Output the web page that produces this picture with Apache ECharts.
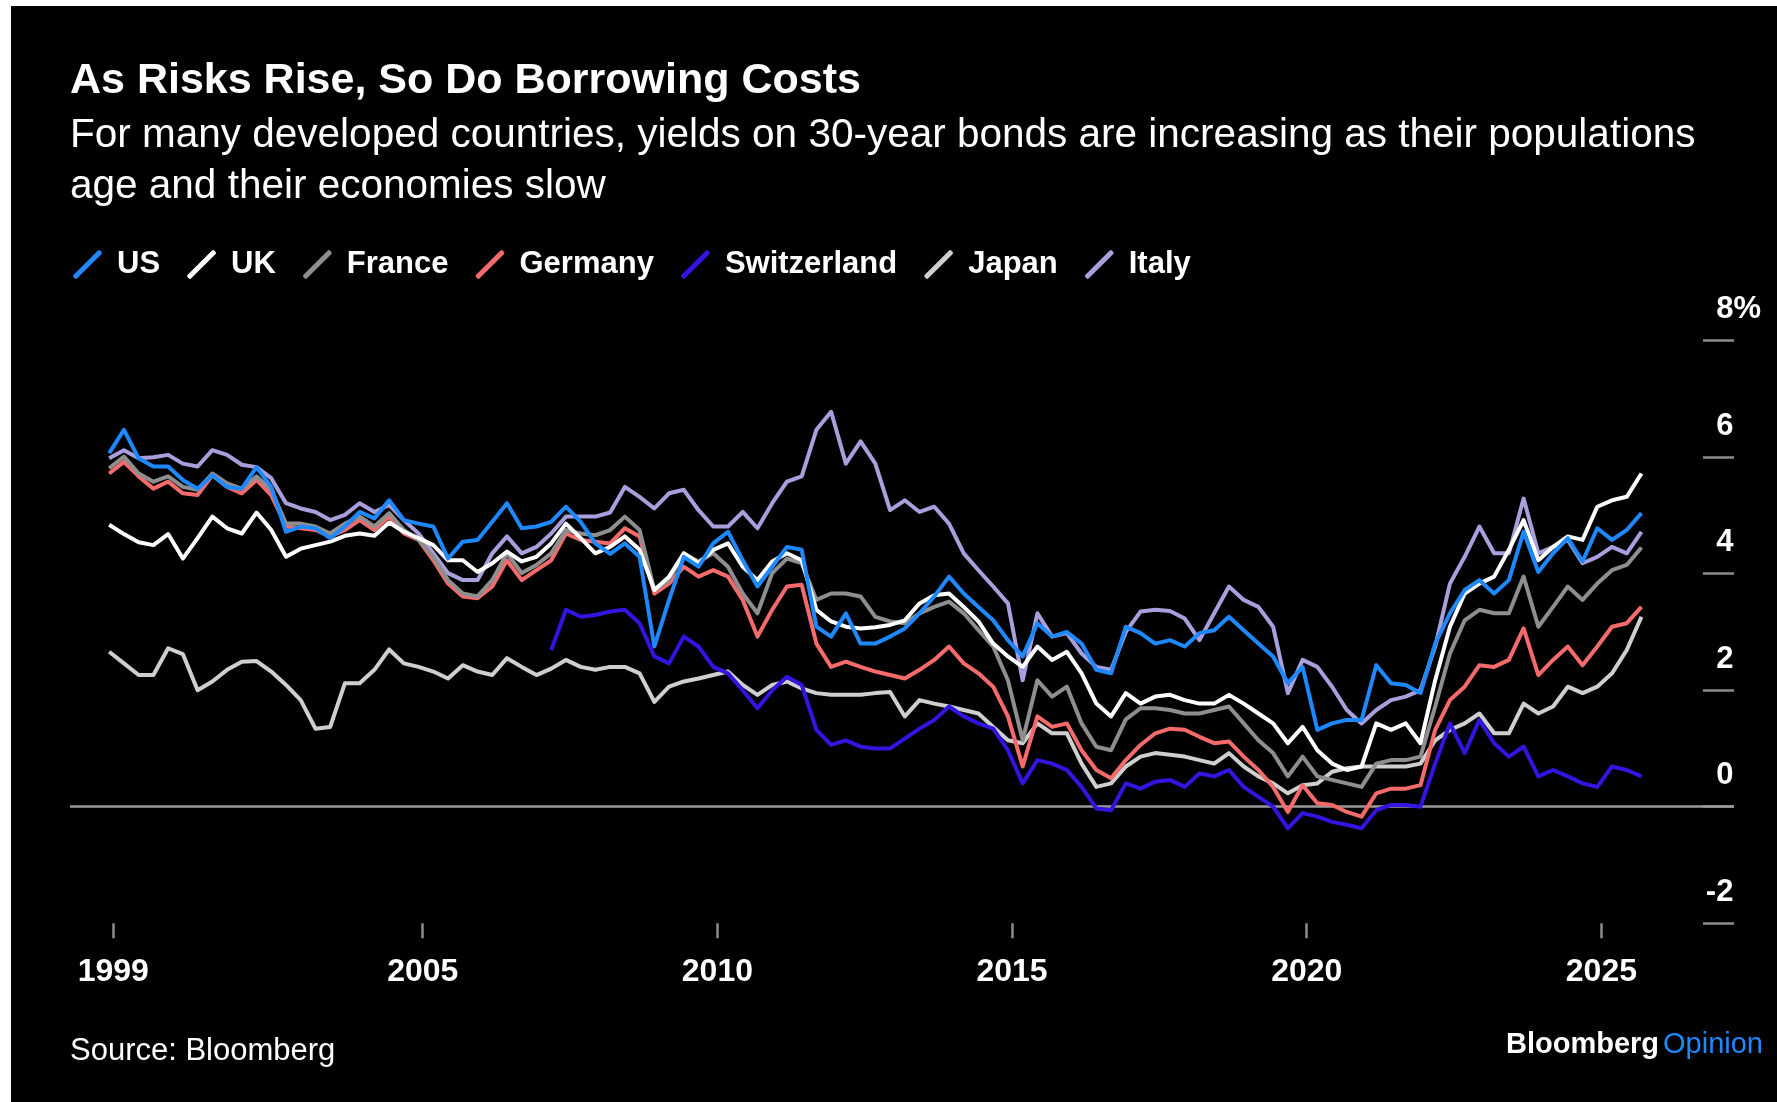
<!DOCTYPE html>
<html>
<head>
<meta charset="utf-8">
<title>As Risks Rise, So Do Borrowing Costs</title>
<script src="https://cdn.jsdelivr.net/npm/echarts@6/dist/echarts.min.js"></script>
<style>
  html, body { margin: 0; padding: 0; background: #000; }
  #chart { width: 1777px; height: 1102px; }
</style>
</head>
<body>
<div id="chart"></div>
<script>
// 30-year government bond yields (%), quarterly observations from late 1999
const startYear = 1999.68;
const stepYears = 0.25;

const usYields = [6.07, 6.47, 5.98, 5.84, 5.84, 5.61, 5.46, 5.69, 5.49, 5.46,
  5.83, 5.49, 4.72, 4.81, 4.78, 4.61, 4.81, 5.06, 4.95, 5.26,
  4.92, 4.86, 4.81, 4.26, 4.55, 4.58, 4.89, 5.21, 4.78, 4.81,
  4.89, 5.15, 4.89, 4.52, 4.34, 4.52, 4.29, 2.75, 3.55, 4.29,
  4.12, 4.52, 4.72, 4.23, 3.78, 4.12, 4.46, 4.41, 3.09, 2.92,
  3.32, 2.80, 2.80, 2.92, 3.06, 3.32, 3.61, 3.95, 3.66, 3.43,
  3.20, 2.86, 2.58, 3.15, 2.92, 3.00, 2.80, 2.35, 2.29, 3.09,
  2.98, 2.80, 2.86, 2.75, 2.98, 3.03, 3.26, 3.03, 2.80, 2.58,
  2.12, 2.40, 1.32, 1.43, 1.49, 1.49, 2.43, 2.12, 2.09, 1.95,
  2.80, 3.32, 3.72, 3.89, 3.66, 3.89, 4.72, 4.03, 4.35, 4.61,
  4.21, 4.78, 4.58, 4.75, 5.04];

const ukYields = [4.84, 4.68, 4.54, 4.49, 4.68, 4.26, 4.61, 4.98, 4.78, 4.69,
  5.05, 4.75, 4.29, 4.43, 4.49, 4.55, 4.65, 4.69, 4.65, 4.88,
  4.72, 4.61, 4.49, 4.23, 4.23, 4.03, 4.18, 4.38, 4.21, 4.29,
  4.52, 4.86, 4.61, 4.35, 4.46, 4.64, 4.41, 3.72, 3.95, 4.35,
  4.18, 4.41, 4.52, 4.12, 3.89, 4.21, 4.35, 4.23, 3.38, 3.18,
  3.09, 3.06, 3.08, 3.12, 3.20, 3.49, 3.63, 3.66, 3.43, 3.18,
  2.80, 2.58, 2.40, 2.75, 2.52, 2.66, 2.29, 1.77, 1.55, 1.95,
  1.77, 1.89, 1.92, 1.83, 1.77, 1.77, 1.92, 1.77, 1.60, 1.43,
  1.09, 1.37, 0.97, 0.74, 0.63, 0.69, 1.43, 1.32, 1.43, 1.09,
  2.17, 3.09, 3.66, 3.83, 3.95, 4.41, 4.92, 4.23, 4.46, 4.64,
  4.58, 5.15, 5.26, 5.32, 5.72];

const franceYields = [5.81, 6.01, 5.72, 5.58, 5.67, 5.49, 5.44, 5.72, 5.55, 5.46,
  5.67, 5.44, 4.86, 4.86, 4.81, 4.69, 4.86, 4.98, 4.81, 5.04,
  4.75, 4.58, 4.29, 3.89, 3.66, 3.61, 3.89, 4.35, 4.01, 4.15,
  4.35, 4.75, 4.69, 4.66, 4.75, 4.98, 4.75, 3.72, 3.89, 4.35,
  4.21, 4.35, 4.12, 3.66, 3.32, 4.01, 4.26, 4.18, 3.55, 3.66,
  3.66, 3.61, 3.26, 3.18, 3.15, 3.32, 3.43, 3.52, 3.32, 3.03,
  2.75, 2.17, 1.14, 2.17, 1.89, 2.06, 1.43, 1.03, 0.97, 1.50,
  1.69, 1.69, 1.66, 1.60, 1.60, 1.66, 1.72, 1.43, 1.14, 0.92,
  0.52, 0.86, 0.52, 0.46, 0.40, 0.34, 0.74, 0.80, 0.80, 0.86,
  1.72, 2.63, 3.20, 3.38, 3.32, 3.32, 3.95, 3.09, 3.43, 3.78,
  3.55, 3.83, 4.06, 4.15, 4.45];

const germanyYields = [5.72, 5.92, 5.67, 5.46, 5.58, 5.38, 5.35, 5.69, 5.49, 5.38,
  5.61, 5.35, 4.81, 4.78, 4.75, 4.64, 4.75, 4.92, 4.75, 4.98,
  4.69, 4.58, 4.23, 3.83, 3.61, 3.58, 3.78, 4.23, 3.89, 4.06,
  4.23, 4.69, 4.58, 4.55, 4.52, 4.78, 4.64, 3.66, 3.83, 4.12,
  3.95, 4.06, 3.95, 3.55, 2.92, 3.38, 3.78, 3.81, 2.80, 2.40,
  2.49, 2.40, 2.32, 2.26, 2.20, 2.35, 2.52, 2.75, 2.46, 2.29,
  2.06, 1.55, 0.69, 1.55, 1.37, 1.43, 0.97, 0.63, 0.49, 0.80,
  1.06, 1.26, 1.34, 1.32, 1.20, 1.09, 1.12, 0.86, 0.63, 0.34,
  -0.09, 0.37, 0.06, 0.03, -0.09, -0.17, 0.23, 0.31, 0.31, 0.37,
  1.32, 1.83, 2.06, 2.43, 2.40, 2.52, 3.06, 2.26, 2.52, 2.75,
  2.43, 2.75, 3.09, 3.15, 3.43];

// Swiss series begins 30 quarters after the others
const swissStartIndex = 30;
const switzerlandYields = [2.69, 3.38, 3.26, 3.29, 3.35, 3.38, 3.15, 2.58, 2.46, 2.92,
  2.75, 2.40, 2.29, 2.00, 1.69, 2.00, 2.23, 2.09, 1.32, 1.06,
  1.14, 1.03, 1.00, 1.00, 1.17, 1.34, 1.49, 1.72, 1.55, 1.43,
  1.34, 0.97, 0.40, 0.80, 0.74, 0.63, 0.34, -0.03, -0.06, 0.40,
  0.31, 0.43, 0.46, 0.34, 0.57, 0.52, 0.63, 0.34, 0.17, 0.00,
  -0.37, -0.11, -0.17, -0.26, -0.31, -0.37, -0.06, 0.03, 0.03, 0.00,
  0.74, 1.43, 0.92, 1.49, 1.09, 0.86, 1.03, 0.52, 0.63, 0.52,
  0.40, 0.34, 0.69, 0.63, 0.52];

const japanYields = [2.66, 2.46, 2.26, 2.26, 2.72, 2.62, 2.00, 2.15, 2.35, 2.49,
  2.50, 2.32, 2.09, 1.83, 1.34, 1.37, 2.12, 2.12, 2.35, 2.70,
  2.46, 2.40, 2.32, 2.20, 2.43, 2.32, 2.26, 2.55, 2.40, 2.26,
  2.37, 2.52, 2.40, 2.35, 2.40, 2.40, 2.29, 1.80, 2.06, 2.15,
  2.20, 2.26, 2.32, 2.09, 1.92, 2.09, 2.15, 2.03, 1.95, 1.92,
  1.92, 1.92, 1.95, 1.97, 1.55, 1.83, 1.77, 1.72, 1.66, 1.60,
  1.37, 1.14, 1.09, 1.43, 1.26, 1.26, 0.74, 0.34, 0.40, 0.69,
  0.86, 0.92, 0.89, 0.86, 0.80, 0.74, 0.92, 0.69, 0.52, 0.40,
  0.23, 0.37, 0.40, 0.60, 0.66, 0.69, 0.69, 0.69, 0.69, 0.74,
  1.14, 1.32, 1.43, 1.60, 1.26, 1.26, 1.77, 1.60, 1.72, 2.06,
  1.95, 2.06, 2.29, 2.69, 3.26];

const italyYields = [5.98, 6.12, 5.98, 6.00, 6.04, 5.89, 5.84, 6.12, 6.04, 5.87,
  5.83, 5.64, 5.21, 5.12, 5.06, 4.92, 5.01, 5.21, 5.06, 5.18,
  4.92, 4.69, 4.35, 4.01, 3.89, 3.89, 4.35, 4.64, 4.35, 4.46,
  4.69, 4.98, 4.98, 4.98, 5.05, 5.49, 5.32, 5.12, 5.38, 5.44,
  5.09, 4.81, 4.81, 5.06, 4.78, 5.21, 5.58, 5.67, 6.47, 6.78,
  5.89, 6.27, 5.89, 5.09, 5.26, 5.06, 5.15, 4.86, 4.35, 4.06,
  3.78, 3.49, 2.17, 3.32, 2.92, 2.98, 2.63, 2.40, 2.35, 3.00,
  3.35, 3.38, 3.36, 3.23, 2.86, 3.32, 3.78, 3.55, 3.43, 3.09,
  1.95, 2.52, 2.40, 2.06, 1.66, 1.43, 1.66, 1.83, 1.89, 2.00,
  2.75, 3.83, 4.29, 4.81, 4.35, 4.35, 5.29, 4.35, 4.46, 4.58,
  4.18, 4.29, 4.46, 4.35, 4.72];

const countries = ['US', 'UK', 'France', 'Germany', 'Switzerland', 'Japan', 'Italy'];
const countryColors = ['#1e88ff', '#ffffff', '#8e8e8e', '#f56b6b', '#3314e0', '#cfcfcf', '#aa9fdd'];
const countryValues = [usYields, ukYields, franceYields, germanyYields, switzerlandYields, japanYields, italyYields];
const countryOffsets = [0, 0, 0, 0, swissStartIndex, 0, 0];

const yearTicks = [1999.75, 2005, 2010, 2015, 2020, 2025];
const yearLabels = ['1999', '2005', '2010', '2015', '2020', '2025'];

const FONT = '"Liberation Sans", Arial, Helvetica, sans-serif';

function toPoints(values, offset) {
  return values.map((v, i) => [+(startYear + (i + offset) * stepYears).toFixed(3), v]);
}

function yearLabel(v) {
  for (let i = 0; i < yearTicks.length; i++) {
    if (Math.abs(yearTicks[i] - v) < 1e-6) return yearLabels[i];
  }
  return '';
}

// Slanted stroke used as the legend marker
const slashIcon = 'path://M1.2,24.3 L24.3,1.2 Q25.5,0 26.8,1.2 L27.8,2.2 Q29,3.4 27.8,4.6 L4.6,27.8 Q3.4,29 2.2,27.8 L1.2,26.8 Q0,25.5 1.2,24.3 Z';

// First country in the list is painted last so it sits on top
const series = countries.map((name, idx) => ({
  name: name,
  type: 'line',
  data: toPoints(countryValues[idx], countryOffsets[idx]),
  showSymbol: false,
  symbol: 'none',
  color: countryColors[idx],
  lineStyle: { color: countryColors[idx], width: 4, join: 'round' },
  z: 10 + (countries.length - idx),
  emphasis: { disabled: true },
  silent: true,
  animation: false
})).reverse();

// Zero reference line under all the curves
series[0].markLine = {
  silent: true,
  symbol: ['none', 'none'],
  label: { show: false },
  lineStyle: { color: '#9a9a9a', width: 2.5, type: 'solid' },
  data: [{ yAxis: 0 }],
  animation: false
};

const chart = echarts.init(document.getElementById('chart'), null, { renderer: 'canvas' });

chart.setOption({
  backgroundColor: '#000',
  animation: false,
  textStyle: { fontFamily: FONT },
  graphic: [
    { type: 'rect', left: 0, top: 0, z: 100, shape: { width: 11, height: 1102 }, style: { fill: '#fff' }, silent: true },
    { type: 'rect', left: 0, top: 0, z: 100, shape: { width: 1777, height: 6 }, style: { fill: '#fff' }, silent: true }
  ],
  title: [
    {
      text: 'As Risks Rise, So Do Borrowing Costs',
      left: 70, top: 56, padding: 0,
      textStyle: { color: '#fff', fontSize: 43, fontWeight: 'bold', fontFamily: FONT, lineHeight: 50 }
    },
    {
      text: 'For many developed countries, yields on 30-year bonds are increasing as their populations\nage and their economies slow',
      left: 70, top: 110, padding: 0,
      textStyle: { color: '#fff', fontSize: 40.5, fontWeight: 'normal', fontFamily: FONT, lineHeight: 51 }
    },
    {
      text: 'Source: Bloomberg',
      left: 70, top: 1033, padding: 0,
      textStyle: { color: '#fff', fontSize: 31, fontWeight: 'normal', fontFamily: FONT, lineHeight: 36 }
    },
    {
      text: '{b|Bloomberg}{o|Opinion}',
      right: 14, top: 1028, padding: 0,
      textStyle: {
        rich: {
          b: { color: '#fff', fontSize: 29, fontWeight: 'bold', fontFamily: FONT, lineHeight: 34 },
          o: { color: '#1e88ff', fontSize: 29, fontWeight: 'normal', fontFamily: FONT, lineHeight: 34, padding: [0, 0, 0, 4] }
        }
      }
    }
  ],
  legend: {
    data: countries.map(n => ({ name: n, icon: slashIcon })),
    left: 73, top: 249, padding: 0,
    itemWidth: 29, itemHeight: 29, itemGap: 27,
    selectedMode: false,
    itemStyle: { borderWidth: 0 },
    textStyle: { color: '#fff', fontSize: 31, fontWeight: 'bold', fontFamily: FONT, lineHeight: 29, padding: [0, 0, 0, 10] }
  },
  grid: { left: 70, right: 43, top: 340.7, bottom: 178.8, containLabel: false },
  xAxis: {
    type: 'value',
    min: 1999.015,
    max: 2027.25,
    axisLine: { show: false, onZero: false },
    splitLine: { show: false },
    axisTick: { show: true, customValues: yearTicks, length: 15, lineStyle: { color: '#8c8c8c', width: 2.5 } },
    axisLabel: {
      customValues: yearTicks,
      formatter: yearLabel,
      color: '#fff', fontSize: 32, fontWeight: 'bold', fontFamily: FONT, margin: 33
    }
  },
  yAxis: {
    type: 'value',
    position: 'right',
    min: -2, max: 8, interval: 2,
    axisLine: { show: false },
    splitLine: { show: false },
    axisTick: { show: true, inside: true, length: 31, lineStyle: { color: '#8c8c8c', width: 2.5 } },
    axisLabel: {
      inside: true,
      margin: -27,
      padding: [0, 0, 62, 0],
      formatter: v => (v === 8 ? '{n|' + v + '}{p|%}' : '{n|' + v + '}{h|%}'),
      rich: {
        n: { color: '#fff', fontSize: 31, fontWeight: 'bold', fontFamily: FONT },
        p: { color: '#fff', fontSize: 31, fontWeight: 'bold', fontFamily: FONT },
        h: { color: 'rgba(0,0,0,0)', fontSize: 31, fontWeight: 'bold', fontFamily: FONT }
      }
    }
  },
  series: series
});
</script>
</body>
</html>
